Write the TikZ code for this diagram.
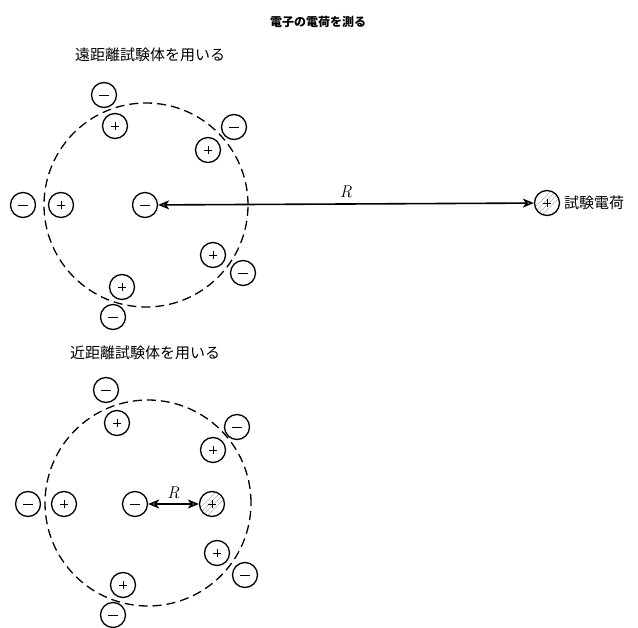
\documentclass[tikz,border=0pt]{standalone}
\usepackage{fontspec}
\newfontfamily\jp{Noto Sans CJK JP}
\usetikzlibrary{arrows.meta}
\begin{document}
\begin{tikzpicture}[x=1pt,y=-1pt,
  chg/.style={circle,draw,line width=1.3pt,minimum size=25pt,inner sep=0pt,fill=white},
  negchg/.style={chg,path picture={\draw[line width=0.9pt] ([xshift=-5pt]path picture bounding box.center) -- ([xshift=5pt]path picture bounding box.center);}},
  poschg/.style={chg,path picture={\draw[line width=0.9pt] ([xshift=-4pt]path picture bounding box.center) -- ([xshift=4pt]path picture bounding box.center) ([yshift=-4pt]path picture bounding box.center) -- ([yshift=4pt]path picture bounding box.center);}},
  hposchg/.style={chg,path picture={
    \begin{scope}[shift={(path picture bounding box.center)}]
      \foreach \d in {-8,-3,2,7} \draw[gray!55,line width=0.6pt] (\d pt-12pt,-12pt) -- (\d pt+12pt,12pt);
      \draw[line width=0.9pt] (-4pt,0pt) -- (4pt,0pt) (0pt,-4pt) -- (0pt,4pt);
    \end{scope}}},
  shell/.style={draw,line width=1.3pt,dash pattern=on 9pt off 5pt},
  darr/.style={line width=1.6pt,{Stealth[open,length=11pt,width=9pt,inset=3pt]}-{Stealth[open,length=11pt,width=9pt,inset=3pt]}},
  jtxt/.style={font=\jp\fontsize{15}{15}\selectfont,inner sep=0pt},
  lab/.style={font=\itshape\fontsize{17}{17}\selectfont,inner sep=0pt}]
\useasboundingbox[fill=white] (0,0) rectangle (638,628);

\node[jtxt,font=\jp\bfseries\fontsize{12}{12}\selectfont] (title) at (318,22) {電子の電荷を測る};
\node[jtxt,anchor=west] (t1) at (75,55) {遠距離試験体を用いる};
\node[jtxt,anchor=west] (t2) at (70,353) {近距離試験体を用いる};

% top diagram
\node[shell,circle,minimum size=204pt,inner sep=0pt] (c1) at (146,205) {};
\node[negchg] (a1) at (104,95) {};
\node[poschg] (a2) at (115,126) {};
\node[negchg] (a3) at (234,127) {};
\node[poschg] (a4) at (208,150) {};
\node[negchg] (a5) at (23,205) {};
\node[poschg] (a6) at (61,205) {};
\node[negchg] (a0) at (145,205) {};
\node[poschg] (a7) at (213,255) {};
\node[negchg] (a8) at (243,273) {};
\node[poschg] (a9) at (122,287) {};
\node[negchg] (a10) at (113,317) {};
\node[hposchg] (q1) at (547,203) {};
\node[jtxt,anchor=west] (qt) at (564,203) {試験電荷};
\draw[darr] (a0) -- (q1) node[lab,midway,above=5pt] (r1) {R};

% bottom diagram
\node[shell,circle,minimum size=206pt,inner sep=0pt] (c2) at (148,503) {};
\node[negchg] (b1) at (106,390) {};
\node[poschg] (b2) at (117,423) {};
\node[negchg] (b3) at (237,427) {};
\node[poschg] (b4) at (213,450) {};
\node[negchg] (b5) at (28,504) {};
\node[poschg] (b6) at (64,504) {};
\node[negchg] (b0) at (135,504) {};
\node[hposchg] (q2) at (212,504) {};
\node[poschg] (b7) at (217,553) {};
\node[negchg] (b8) at (245,575) {};
\node[poschg] (b9) at (123,585) {};
\node[negchg] (b10) at (113,615) {};
\draw[darr] (b0) -- (q2) node[lab,midway,above=4pt] (r2) {R};
\end{tikzpicture}
\end{document}
